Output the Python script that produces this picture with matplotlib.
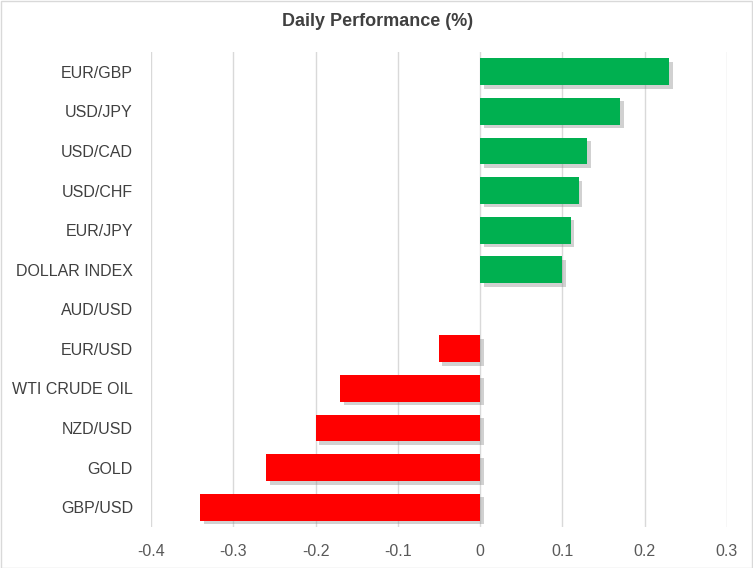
import matplotlib
matplotlib.use("Agg")
import matplotlib.pyplot as plt
import matplotlib.patheffects as pe
from matplotlib.patches import Rectangle

categories = ["EUR/GBP", "USD/JPY", "USD/CAD", "USD/CHF", "EUR/JPY", "DOLLAR INDEX",
              "AUD/USD", "EUR/USD", "WTI CRUDE OIL", "NZD/USD", "GOLD", "GBP/USD"]
values = [0.23, 0.17, 0.13, 0.12, 0.11, 0.10, 0.0, -0.05, -0.17, -0.20, -0.26, -0.34]
xticks = [-0.4, -0.3, -0.2, -0.1, 0, 0.1, 0.2, 0.3]
xticklabels = ["-0.4", "-0.3", "-0.2", "-0.1", "0", "0.1", "0.2", "0.3"]
title = "Daily Performance (%)"

plt.rcParams['font.family'] = ['Liberation Sans', 'DejaVu Sans']

fig = plt.figure(figsize=(7.53, 5.68), dpi=100)
W, H = 753, 568
ax = fig.add_axes([151 / W, 1 - 527 / H, (727 - 151) / W, (527 - 52) / H])

colors = ["#00B050" if v >= 0 else "#FF0000" for v in values]
ypos = list(range(len(categories)))
bars = ax.barh(ypos, values, height=0.68, color=colors, zorder=3)
for b in bars:
    b.set_path_effects([pe.SimplePatchShadow(offset=(2.5, -2.5), shadow_rgbFace="#8c8c8c", alpha=0.4),
                        pe.Normal()])

ax.set_ylim(len(categories) - 0.5, -0.5)
ax.set_xlim(-0.4, 0.3)
ax.set_xticks(xticks)
ax.set_xticklabels(xticklabels, fontsize=11.5, color="#595959")
ax.set_yticks(ypos)
ax.set_yticklabels(categories, fontsize=11.5, color="#404040")
ax.tick_params(axis="both", length=0)
ax.tick_params(axis="x", pad=12)
ax.tick_params(axis="y", pad=13)
ax.grid(axis="x", color="#D9D9D9", linewidth=1, zorder=0)
for s in ax.spines.values():
    s.set_visible(False)

fig.text(378 / W, 1 - 22 / H, title, ha="center", va="center", fontsize=13,
         fontweight="bold", color="#404040")

fig.patches.append(Rectangle((0.5 / W, 0.5 / H), 1 - 1.5 / W, 1 - 1.5 / H, transform=fig.transFigure,
                             fill=False, edgecolor="#D9D9D9", linewidth=1))

fig.savefig("out.png", dpi=100)
